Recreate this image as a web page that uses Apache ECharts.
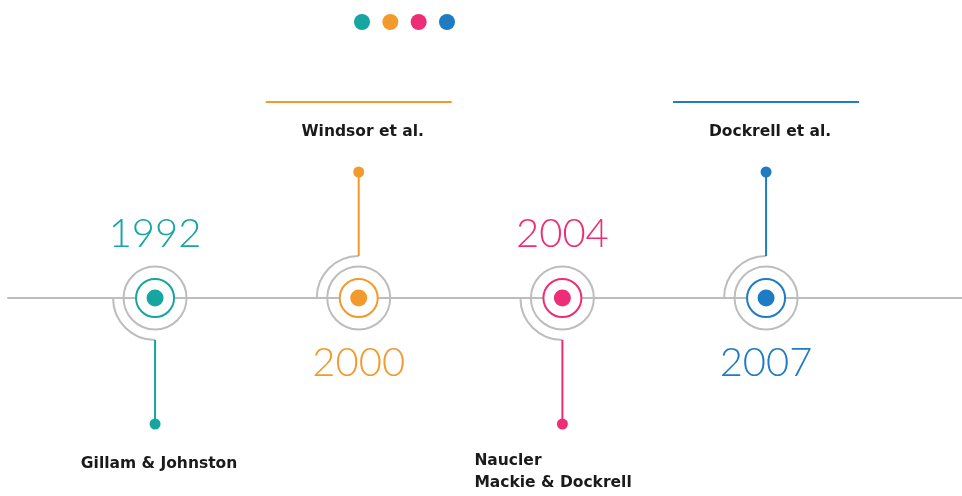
<!DOCTYPE html>
<html>
<head>
<meta charset="utf-8">
<script src="https://cdn.jsdelivr.net/npm/echarts@6/dist/echarts.min.js"></script>
<style>
  html, body { margin: 0; padding: 0; background: #fff; }
  #main { width: 962px; height: 496px; }
</style>
</head>
<body>
<div id="main"></div>
<script>
// timeline data
var years = ['1992', '2000', '2004', '2007']
var authors = ['Gillam & Johnston', 'Windsor et al.', 'Naucler\nMackie & Dockrell', 'Dockrell et al.']
var sides = [-1, 1, -1, 1] // -1 = stem down, 1 = stem up
var colors = ['#17a59f', '#f29b2c', '#ee2d77', '#1f7bc3']
var gray = '#bdbdbd'

var myChart = echarts.init(document.getElementById('main'))

function renderEvent(params, api) {
    var i = api.value(0)
    var side = api.value(1)
    var c = api.coord([i, 0])
    var tip = api.coord([i, side])
    var color = colors[i]
    var up = side > 0
    var children = []

    // quarter arc + stem
    children.push({
        type: 'arc',
        shape: { cx: c[0], cy: c[1], r: 42, startAngle: up ? Math.PI : Math.PI / 2, endAngle: up ? Math.PI * 1.5 : Math.PI },
        style: { stroke: gray, lineWidth: 2, fill: null }
    })
    children.push({
        type: 'line',
        shape: { x1: tip[0], y1: tip[1], x2: c[0], y2: c[1] + (up ? -42 : 42) },
        style: { stroke: color, lineWidth: 2 }
    })
    children.push({
        type: 'circle',
        shape: { cx: tip[0], cy: tip[1], r: 5.5 },
        style: { fill: color }
    })
    // rings
    children.push({
        type: 'circle',
        shape: { cx: c[0], cy: c[1], r: 31.5 },
        style: { stroke: gray, lineWidth: 2, fill: null }
    })
    children.push({
        type: 'circle',
        shape: { cx: c[0], cy: c[1], r: 19 },
        style: { stroke: color, lineWidth: 2, fill: '#fff' }
    })
    children.push({
        type: 'circle',
        shape: { cx: c[0], cy: c[1], r: 8.5 },
        style: { fill: color }
    })
    // year
    children.push({
        type: 'text',
        x: c[0],
        y: c[1] + (up ? 65 : -64),
        style: {
            text: years[i], fill: color, fontSize: 40, fontFamily: 'Lato', fontWeight: 300,
            align: 'center', verticalAlign: 'middle'
        }
    })
    // author label
    var multi = authors[i].indexOf('\n') >= 0
    children.push({
        type: 'text',
        x: multi ? tip[0] - 88 : tip[0] + 4,
        y: up ? tip[1] - 40 : tip[1] + (multi ? 48 : 40),
        style: {
            text: authors[i], fill: '#1a1a1a', fontSize: 15.5, fontFamily: 'DejaVu Sans', fontWeight: 'bold',
            align: multi ? 'left' : 'center', verticalAlign: 'middle', lineHeight: 22
        }
    })
    if (up) {
        children.push({
            type: 'line',
            shape: { x1: tip[0] - 93, y1: tip[1] - 70, x2: tip[0] + 93, y2: tip[1] - 70 },
            style: { stroke: color, lineWidth: 2 }
        })
    }
    return { type: 'group', children: children }
}

var option = {
    animation: false,
    grid: [
        { left: 8, right: 0, top: 172, bottom: 72 },
        { left: 362, right: 515, top: 14, height: 16 }
    ],
    xAxis: [
        {
            type: 'value', gridIndex: 0, min: -0.722, max: 3.962,
            axisLine: { show: true, onZero: true, lineStyle: { color: gray, width: 2 } },
            axisTick: { show: false }, axisLabel: { show: false }, splitLine: { show: false }
        },
        { type: 'category', gridIndex: 1, data: years, boundaryGap: false, show: false }
    ],
    yAxis: [
        { type: 'value', gridIndex: 0, min: -1, max: 1, show: false, splitLine: { show: false } },
        { type: 'value', gridIndex: 1, min: -1, max: 1, show: false, splitLine: { show: false } }
    ],
    series: [
        {
            type: 'custom',
            xAxisIndex: 0,
            yAxisIndex: 0,
            clip: false,
            renderItem: renderEvent,
            data: years.map(function (y, i) { return [i, sides[i]] })
        },
        {
            type: 'scatter',
            xAxisIndex: 1,
            yAxisIndex: 1,
            symbolSize: 16,
            itemStyle: { opacity: 1, color: function (p) { return colors[p.dataIndex] } },
            data: years.map(function (y, i) { return [i, 0] })
        }
    ]
}

option && myChart.setOption(option, true)
</script>
</body>
</html>
